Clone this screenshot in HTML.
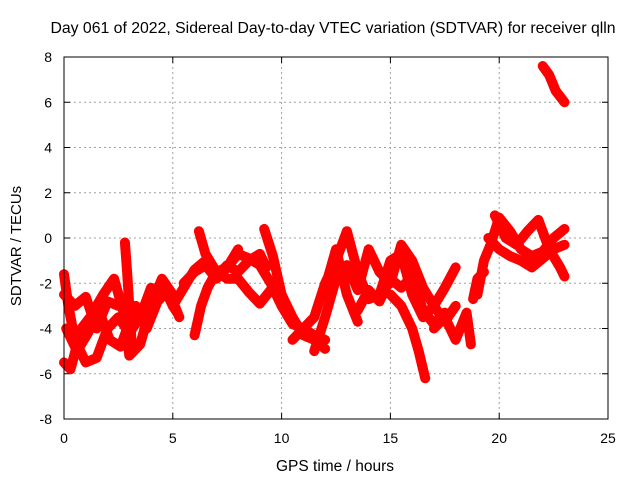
<!DOCTYPE html>
<html><head><meta charset="utf-8"><style>
body{margin:0;background:#fff}
svg text{font-family:"Liberation Sans",sans-serif;font-size:14px;fill:#000}
</style></head><body>
<svg id="c" width="640" height="480">
<text x="333" y="33" text-anchor="middle" style="font-size:15.8px">Day 061 of 2022, Sidereal Day-to-day VTEC variation (SDTVAR) for receiver qlln</text>
<text x="335" y="471" text-anchor="middle" style="font-size:15.5px">GPS time / hours</text>
<text transform="translate(21,246) rotate(-90)" text-anchor="middle" style="font-size:15px">SDTVAR / TECUs</text>
<g id="grid"></g><g id="ticks"></g><g id="marks"></g>
<rect x="64" y="57" width="544" height="362" fill="none" stroke="#000" stroke-width="1"/>
</svg>
<script>
const xTicks=[0,5,10,15,20,25];
const yTicks=[-8,-6,-4,-2,0,2,4,6,8];
const seriesTimes=[
[0,0.2,0.5,1,1.5,2,2.5,3,3.5,4,4.5,5,5.2],
[0,0.5,1,1.5,2,2.5,3,3.5,4,4.5],
[0,0.3,0.8,1.2,1.8,2.3,2.8,3.0,3.5,4,4.5,5],
[5.5,6,6.5,7,7.5,8,8.5,9,9.5,10,10.5,11,11.5,12],
[6.2,6.5,7,7.5,8,8.5,9,9.5,10],
[9.2,9.6,10,10.5,11,11.5,12],
[6,6.3,6.6,7,7.5,8],
[10.5,11,11.5,12,12.5,13,13.5,14,14.5,15,15.5,16,16.5,17,17.5,18],
[11.5,12,12.5,13,13.5,14,14.5,15,15.5,16,16.5,17,17.5,18],
[12,12.5,13,13.5],
[15,15.5,16,16.3,16.6],
[17,17.5,18,18.5,18.7],
[19,19.3,19.6,20,20.5,21,21.5,22,22.5,23],
[19.5,20,20.5,21,21.5,22,22.5,23],
[19.8,20.3,20.8,21.3,21.8,22.3,22.8,23],
[22,22.3,22.6,23],
[18.8,19,19.3],
[0.1,0.6,1.1,1.6,2.1,2.6,2.9,3.3,3.8,4.3,4.8,5.3],
[2.8,2.9,3.0,3.1],
[5,5.5,6,6.5,7,7.5,8,8.5,9,9.3],
[13.5,14,14.5,15,15.5,16,16.5,17,17.5]
];
const seriesValues=[
[-1.6,-3,-4.5,-5.5,-5.3,-4,-3.5,-4.2,-3.5,-2.5,-2,-3,-3.3],
[-2.5,-3,-2.6,-4,-2.8,-3,-2.9,-3.5,-2.2,-2.5],
[-5.5,-5.8,-4,-3.5,-2.5,-1.8,-3.5,-5.2,-4.7,-3,-1.8,-2.5],
[-2,-1.5,-1.2,-1.8,-1.3,-0.7,-0.9,-1.2,-2,-3,-3.8,-4.0,-4.3,-4.5],
[0.3,-0.7,-1.5,-1.8,-1.8,-2.4,-2.9,-2.3,-2.6],
[0.4,-0.8,-2.5,-3.5,-4.3,-4.5,-4.9],
[-4.3,-3,-2.2,-1.5,-1.3,-0.5],
[-4.5,-4,-3.5,-2,-1,0.3,-1.5,-2.7,-2.5,-1,-0.7,-2.5,-3.5,-3,-3.7,-3],
[-5,-3.5,-1.8,-1.2,-2.3,-0.5,-1.5,-2,-0.3,-1,-2.2,-3,-2.2,-1.3],
[-2.2,-0.5,-2.5,-3.7],
[-2.5,-3.0,-4,-5,-6.2],
[-4,-3.5,-4.5,-3.3,-4.7],
[-2.5,-1,-0.3,0.9,0.3,-0.5,-0.8,-0.6,0,0.4],
[0,-0.5,-0.8,-1,-1.3,-0.9,-0.5,-0.3],
[1,0,-0.3,0.3,0.8,-0.5,-1.3,-1.7],
[7.6,7.2,6.5,6],
[-2.7,-1.8,-1.5],
[-4,-5,-4.2,-3.2,-4.5,-4.8,-4,-3,-4,-2.8,-2.3,-3.5],
[-0.2,-1.5,-3,-4.5],
[-3,-2.2,-1.4,-1.0,-1.7,-1.2,-1.5,-1.0,-0.7,-1.3],
[-3.2,-2.3,-2.8,-1.8,-2.2,-1.7,-3.2,-3.8,-3.3]
];
const X0=64,X1=608,Y0=419,Y1=57;
function sx(t){return X0+(t-0)/(25-0)*(X1-X0);}
function sy(v){return Y0-(v+8)/16*(Y0-Y1);}
const NS="http://www.w3.org/2000/svg";
function mk(tag,attrs,parent){const e=document.createElementNS(NS,tag);for(const k in attrs)e.setAttribute(k,attrs[k]);parent.appendChild(e);return e;}
const grid=document.getElementById('grid'),ticks=document.getElementById('ticks'),marks=document.getElementById('marks');
xTicks.forEach(t=>{
  const x=sx(t);
  if(t>0&&t<25){const g=mk('line',{x1:x,x2:x,y1:Y1,y2:Y0,stroke:'#a0a0a0','stroke-dasharray':'2,3'},grid);
  
  }
  mk('line',{x1:x,x2:x,y1:Y0,y2:Y0-6,stroke:'#000'},ticks);
  mk('line',{x1:x,x2:x,y1:Y1,y2:Y1+6,stroke:'#000'},ticks);
  const l=mk('text',{x:x,y:443,'text-anchor':'middle'},ticks);l.textContent=t;
  
  
});
yTicks.forEach(v=>{
  const y=sy(v);
  if(v>-8&&v<8){const g=mk('line',{x1:X0,x2:X1,y1:y,y2:y,stroke:'#a0a0a0','stroke-dasharray':'2,3'},grid);
  
  }
  mk('line',{x1:X0,x2:X0+6,y1:y,y2:y,stroke:'#000'},ticks);
  mk('line',{x1:X1,x2:X1-6,y1:y,y2:y,stroke:'#000'},ticks);
  const l=mk('text',{x:52,y:y+5,'text-anchor':'end'},ticks);l.textContent=v;
  
  
});
seriesTimes.forEach((ts,i)=>{
  const vs=seriesValues[i];
  const pts=ts.map((t,j)=>sx(t)+','+sy(vs[j])).join(' ');
  const pl=mk('polyline',{points:pts,fill:'none',stroke:'#ff0000','stroke-width':10,'stroke-linejoin':'round','stroke-linecap':'round'},marks);
  
  
  ts.forEach((t,j)=>{
    const x=sx(t),y=sy(vs[j]);
    const p=mk('path',{d:`M${x-4.5},${y}H${x+4.5}M${x},${y-4.5}V${y+4.5}`,stroke:'#ff0000','stroke-width':1.5},marks);
    
    
  });
});
</script>
</body></html>
